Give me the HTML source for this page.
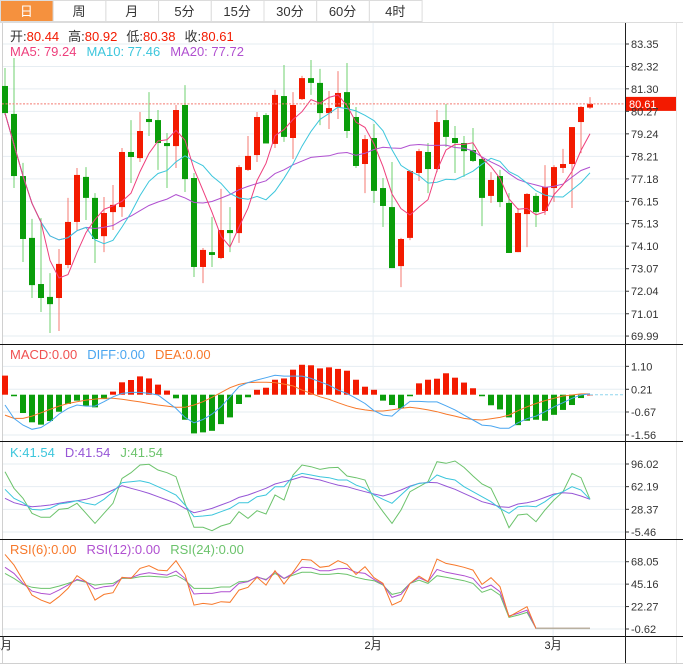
<!DOCTYPE html>
<html><head><meta charset="utf-8">
<style>
html,body{margin:0;padding:0;background:#fff;}
body{width:683px;height:665px;overflow:hidden;font-family:"Liberation Sans","Noto Sans CJK SC",sans-serif;}
svg{display:block;}
text{font-family:"Liberation Sans","Noto Sans CJK SC",sans-serif;}
</style></head>
<body>
<svg id="chart" width="683" height="665" viewBox="0 0 683 665" xmlns="http://www.w3.org/2000/svg">
  <g id="tabs"></g>
  <g id="grid"></g>
  <g id="price"></g>
  <g id="macd"></g>
  <g id="kdj"></g>
  <g id="rsi"></g>
  <g id="axes"></g>
</svg>
<script>
const tabLabels = ['日','周','月','5分','15分','30分','60分','4时'];
const openP  = [81.43,80.15,77.31,74.48,72.37,71.78,71.73,73.24,75.21,77.27,76.31,74.56,75.66,75.89,78.41,78.13,79.92,79.87,78.82,78.68,80.56,77.22,73.15,73.83,73.56,74.84,74.70,77.59,78.27,80.10,78.78,80.97,79.05,80.83,81.79,81.57,80.19,80.47,81.15,80.01,77.86,79.05,76.76,75.89,73.19,74.48,77.45,78.41,77.63,79.87,79.05,78.82,78.50,78.09,76.40,77.31,76.08,73.83,75.57,76.40,75.71,76.76,77.68,77.86,79.78,80.44];
const highP  = [82.25,82.71,77.91,75.35,75.39,72.87,73.97,76.31,77.68,77.72,76.53,76.35,76.90,78.59,79.87,80.24,81.15,80.33,79.28,80.56,81.47,77.45,74.02,75.44,76.72,75.89,77.81,79.14,80.24,80.19,81.25,82.39,81.15,81.89,82.62,82.21,81.20,82.11,82.48,80.47,79.19,79.69,77.22,77.95,74.48,77.59,78.55,78.82,80.33,80.60,79.60,79.14,79.51,78.18,77.49,77.59,76.53,75.85,76.53,76.53,77.81,77.81,78.55,79.55,80.51,80.92];
const lowP   = [80.10,76.76,73.38,71.73,71.09,70.13,70.22,73.10,74.84,75.30,73.33,73.83,74.84,75.44,76.99,77.95,79.14,77.59,76.76,77.68,76.58,72.69,72.41,73.15,73.51,73.83,74.25,77.54,77.95,78.82,78.59,78.87,78.09,80.79,81.02,79.64,79.46,79.92,79.05,77.68,76.53,76.08,74.98,73.10,72.23,74.38,77.08,76.53,77.49,78.64,77.45,77.27,77.95,75.02,76.08,75.89,73.79,73.83,74.06,74.98,75.53,76.12,77.45,75.85,78.36,80.38];
const closeP = [80.19,77.31,74.43,72.32,71.73,71.45,73.29,75.21,77.36,76.31,74.43,75.62,75.99,78.41,78.18,79.37,79.78,78.82,78.68,80.33,77.17,73.15,73.93,73.70,74.84,74.70,77.72,78.23,80.01,78.80,81.02,79.10,80.56,81.79,81.57,80.19,80.42,81.11,79.37,77.77,79.00,76.63,75.94,73.10,74.43,77.54,78.45,77.63,79.78,79.10,78.82,78.45,78.00,76.31,77.13,76.12,73.79,75.62,76.49,75.66,76.81,77.72,77.86,79.55,80.47,80.61];
const priceTicks = [83.35,82.32,81.30,80.27,79.24,78.21,77.18,76.15,75.13,74.10,73.07,72.04,71.01,69.99];
const macdHist = [0.74,-0.06,-0.71,-1.07,-1.16,-1.02,-0.66,-0.36,-0.23,-0.43,-0.49,-0.17,0.12,0.48,0.57,0.71,0.63,0.39,0.16,-0.14,-0.97,-1.50,-1.46,-1.40,-1.14,-0.88,-0.36,-0.10,0.19,0.27,0.58,0.63,0.97,1.16,1.14,1.02,1.06,1.00,0.93,0.58,0.31,0.19,-0.23,-0.40,-0.53,-0.06,0.44,0.58,0.62,0.83,0.66,0.47,0.25,-0.06,-0.41,-0.57,-0.88,-1.18,-1.01,-0.97,-1.01,-0.78,-0.59,-0.40,-0.13,0.0];
const diffV = [-0.40,-0.92,-1.18,-1.34,-1.27,-1.05,-0.75,-0.53,-0.40,-0.44,-0.44,-0.27,-0.08,0.05,0.09,0.09,0.05,-0.01,-0.27,-0.53,-0.88,-1.09,-0.96,-0.75,-0.47,-0.08,0.31,0.47,0.57,0.66,0.75,0.72,0.72,0.72,0.63,0.50,0.37,0.18,0.05,-0.14,-0.34,-0.62,-0.79,-0.83,-0.53,-0.26,-0.26,-0.28,-0.28,-0.43,-0.59,-0.79,-0.98,-1.18,-1.21,-1.30,-1.30,-1.09,-0.93,-0.83,-0.66,-0.47,-0.31,-0.14,-0.01,0.03];
const deaV = [-0.79,-0.92,-0.92,-0.83,-0.70,-0.57,-0.44,-0.34,-0.27,-0.21,-0.17,-0.14,-0.14,-0.18,-0.23,-0.28,-0.34,-0.40,-0.44,-0.49,-0.49,-0.40,-0.27,-0.10,0.08,0.27,0.40,0.47,0.48,0.48,0.47,0.41,0.34,0.18,0.05,-0.08,-0.18,-0.31,-0.43,-0.53,-0.59,-0.63,-0.63,-0.59,-0.53,-0.49,-0.53,-0.59,-0.66,-0.75,-0.83,-0.92,-0.96,-0.98,-0.93,-0.88,-0.79,-0.62,-0.47,-0.34,-0.23,-0.14,-0.05,-0.01,0.03,0.03];
const macdTicks = [1.10,0.21,-0.67,-1.56];
const kV = [58.2,44.8,38.3,28.3,27.3,29.8,36.3,38.3,41.3,37.3,34.8,43.3,54.7,68.1,69.6,71.1,68.1,62.2,56.2,49.7,34.8,17.4,18.4,19.9,24.9,29.8,38.3,38.3,47.2,49.7,62.2,62.2,77.1,82.0,79.6,77.1,75.6,72.1,72.1,64.6,59.7,49.7,43.3,37.3,49.7,62.2,67.1,68.1,79.6,74.6,72.1,62.2,54.7,47.2,39.8,29.8,22.4,32.3,33.3,32.3,39.8,49.7,54.7,62.2,57.2,43.3];
const dV = [44.8,38.3,34.8,32.3,33.3,34.8,37.3,39.8,41.3,43.3,47.2,51.2,57.2,63.6,59.7,56.2,52.2,47.2,42.3,37.3,29.8,23.4,26.3,29.8,34.8,39.8,46.2,49.7,54.7,59.7,66.1,69.6,73.1,77.1,74.6,72.1,68.1,64.6,62.2,58.2,54.7,51.2,48.2,52.2,57.2,63.1,67.1,68.6,68.1,63.1,58.2,52.2,46.2,39.8,36.3,32.3,31.3,36.3,38.3,41.3,46.2,51.2,53.2,52.2,48.2,43.3];
const jV = [84.6,59.7,44.8,22.4,16.4,16.4,28.3,29.8,37.3,22.4,7.4,22.4,37.3,74.6,83.0,94.5,95.5,87.0,83.0,77.1,37.3,1.5,1.5,-3.5,3.5,7.4,24.9,14.9,26.3,21.4,49.7,42.3,79.6,94.5,92.0,88.0,90.5,91.0,78.1,75.6,72.1,43.3,24.9,7.4,27.3,54.7,62.2,69.6,99.5,97.0,100.5,91.0,78.1,66.1,59.7,32.3,1.0,19.9,21.4,9.9,27.3,42.3,54.7,82.0,75.6,43.3];
const kdjTicks = [96.02,62.19,28.37,-5.46];
const rsi6 = [75.5,64.6,49.3,34.0,28.9,25.5,32.3,40.8,53.8,47.6,28.9,34.7,36.4,52.1,51.0,61.2,64.0,59.5,58.9,69.1,55.1,23.8,25.5,24.5,27.2,26.6,39.1,41.9,52.1,44.2,58.9,45.3,57.2,70.4,69.7,62.3,63.6,69.1,65.3,55.1,62.9,51.7,45.9,23.8,27.9,45.9,53.4,47.6,70.8,66.3,64.6,62.3,59.5,44.9,51.7,42.5,11.9,17.0,22.1,0,0,0,0,0,0,0];
const rsi12 = [62.3,56.1,45.9,38.1,35.7,34.7,39.1,44.2,50.0,47.6,40.2,42.5,43.5,51.7,51.7,55.1,56.8,55.5,54.4,58.5,51.0,35.1,35.7,35.7,37.4,37.4,45.9,47.6,52.7,49.3,57.8,51.0,56.1,62.3,61.9,58.9,58.9,60.9,61.2,57.2,56.1,50.0,44.9,31.6,34.7,45.9,51.7,47.6,60.2,57.2,55.5,53.8,51.0,40.8,44.2,37.4,12.6,15.3,18.7,0,0,0,0,0,0,0];
const rsi24 = [56.1,51.0,44.9,41.9,40.8,40.8,43.2,45.9,49.3,47.0,44.2,45.3,45.9,51.0,51.0,52.7,53.4,52.7,52.1,54.4,49.3,40.8,40.8,40.8,42.2,42.2,47.6,48.3,52.1,50.0,56.1,51.0,54.4,57.2,57.2,55.1,55.1,56.1,55.1,52.1,50.0,48.7,44.2,34.7,36.8,45.9,49.3,45.9,53.8,52.1,50.4,48.7,45.9,36.8,40.2,34.0,11.2,13.6,16.3,0,0,0,0,0,0,0];
const rsiTicks = [68.05,45.16,22.27,-0.62];
const dateLabels = ['1月','2月','3月'];
const dateIdx = [-0.2,40.9,60.9];

const NS='http://www.w3.org/2000/svg';
function mk(parent,tag,attrs,txt){const e=document.createElementNS(NS,tag);for(const k in attrs)e.setAttribute(k,attrs[k]);if(txt!==undefined)e.textContent=txt;parent.appendChild(e);return e;}
const AXX=625;
const xOf=i=>5+9*i;
const yPrice=v=>44+(83.35-v)*21.86;
const yMacd=v=>394.7-v*25.8;
const yKdj=v=>464+(96.02-v)*0.670;
const yRsi=v=>561.7+(68.05-v)*0.98;
const G=id=>document.getElementById(id);

// Tabs
const tabs=G('tabs');
mk(tabs,'rect',{x:0,y:0,width:683,height:22,fill:'#fff'});
tabLabels.forEach((t,i)=>{
  const x=i*52.7, w=52.7;
  const r=mk(tabs,'rect',{x:x+0.5,y:0.5,width:w,height:21,fill:i===0?'#f5913e':'#fff',stroke:'#dcdcdc'});
  
  
  const tx=mk(tabs,'text',{x:x+w/2,y:16,'text-anchor':'middle','font-size':13,fill:i===0?'#fff':'#333'},t);
  
  
});
mk(tabs,'line',{x1:0,y1:22.5,x2:683,y2:22.5,stroke:'#dcdcdc'});

// Grid
const grid=G('grid');
function hgrid(y){mk(grid,'line',{x1:2,y1:y,x2:AXX,y2:y,stroke:'#e6edf2','stroke-width':1});}
priceTicks.forEach(v=>hgrid(yPrice(v)));
macdTicks.forEach(v=>hgrid(yMacd(v)));
kdjTicks.forEach(v=>hgrid(yKdj(v)));
rsiTicks.forEach(v=>hgrid(yRsi(v)));
dateIdx.forEach(i=>{if(i>1)mk(grid,'line',{x1:xOf(i),y1:23,x2:xOf(i),y2:636,stroke:'#e6edf2'});});
mk(grid,'line',{x1:2.5,y1:23,x2:2.5,y2:663,stroke:'#d0d0d0'});
mk(grid,'line',{x1:0,y1:663.5,x2:683,y2:663.5,stroke:'#d0d0d0'});
mk(grid,'line',{x1:676.5,y1:23,x2:676.5,y2:663,stroke:'#e6e6e6'});

// Price panel
const price=G('price');
for(let i=0;i<closeP.length;i++){
  const up=closeP[i]>=openP[i];
  const col=up?'#f31a00':'#0a9d0a', wc=up?'#f47a70':'#6fd06f';
  const x=xOf(i);
  const w=mk(price,'line',{x1:x,y1:yPrice(highP[i]),x2:x,y2:yPrice(lowP[i]),stroke:wc,'stroke-width':1});
  
  
  const top=yPrice(Math.max(openP[i],closeP[i])), bot=yPrice(Math.min(openP[i],closeP[i]));
  const b=mk(price,'rect',{x:x-3,y:top,width:6,height:Math.max(1,bot-top),fill:col});
  
  
}
function ma(n){return closeP.map((c,i)=>{const s=Math.max(0,i-n+1);let t=0;for(let k=s;k<=i;k++)t+=closeP[k];return t/(i-s+1);});}
function poly(parent,vals,yf,color,name,extra){
  const pts=vals.map((v,i)=>xOf(i).toFixed(1)+','+yf(v).toFixed(1)).join(' ');
  const p=mk(parent,'polyline',Object.assign({points:pts,fill:'none',stroke:color,'stroke-width':1},extra||{}));
  
  
  return p;
}
poly(price,ma(20),yPrice,'#b050d0','ma20-line');
poly(price,ma(10),yPrice,'#3cc6dc','ma10-line');
poly(price,ma(5),yPrice,'#ee3f7c','ma5-line');
const last=closeP[closeP.length-1];
mk(price,'line',{x1:2,y1:yPrice(last),x2:AXX,y2:yPrice(last),stroke:'#f47a70','stroke-dasharray':'2,1.5','stroke-width':1});
const lbox=mk(price,'rect',{x:626,y:yPrice(last)-7,width:50,height:14,fill:'#f31a00'});


mk(price,'text',{x:629,y:yPrice(last)+4,'font-size':11,fill:'#fff'},last.toFixed(2));
const hdr=mk(price,'text',{x:10,y:41,'font-size':13});


const li=closeP.length-1;
[['开:','#333',0],[openP[li].toFixed(2),'#f31a00',0],['高:','#333',9],[highP[li].toFixed(2),'#f31a00',0],['低:','#333',9],[lowP[li].toFixed(2),'#f31a00',0],['收:','#333',9],[closeP[li].toFixed(2),'#f31a00',0]].forEach(([t,c,d])=>mk(hdr,'tspan',{fill:c,dx:d},t));
const m5=ma(5),m10=ma(10),m20=ma(20);
const mah=mk(price,'text',{x:10,y:56,'font-size':13});


mk(mah,'tspan',{fill:'#ee3f7c'},'MA5: '+m5[li].toFixed(2));
mk(mah,'tspan',{fill:'#3cc6dc',dx:10},'MA10: '+m10[li].toFixed(2));
mk(mah,'tspan',{fill:'#b050d0',dx:10},'MA20: '+m20[li].toFixed(2));

// MACD
const macd=G('macd');
macdHist.forEach((v,i)=>{
  const y0=yMacd(0), y1=yMacd(v);
  const r=mk(macd,'rect',{x:xOf(i)-3,y:Math.min(y0,y1),width:6,height:Math.max(0.8,Math.abs(y1-y0)),fill:v>=0?'#f31a00':'#0a9d0a'});
  
  
});
poly(macd,deaV,yMacd,'#f7782a','dea-line');
poly(macd,diffV,yMacd,'#4aa6f0','diff-line');
mk(macd,'line',{x1:xOf(65),y1:yMacd(0),x2:AXX,y2:yMacd(0),stroke:'#8fd6ee','stroke-dasharray':'3,2'});
const ml=mk(macd,'text',{x:10,y:359,'font-size':13});


mk(ml,'tspan',{fill:'#f05050'},'MACD:0.00');
mk(ml,'tspan',{fill:'#4aa6f0',dx:10},'DIFF:0.00');
mk(ml,'tspan',{fill:'#f7782a',dx:10},'DEA:0.00');

// KDJ
const kdj=G('kdj');
poly(kdj,jV,yKdj,'#6cc36c','j-line');
poly(kdj,dV,yKdj,'#9656d6','d-line');
poly(kdj,kV,yKdj,'#3cc6dc','k-line');
const kl=mk(kdj,'text',{x:10,y:457,'font-size':13});


mk(kl,'tspan',{fill:'#3cc6dc'},'K:41.54');
mk(kl,'tspan',{fill:'#9656d6',dx:10},'D:41.54');
mk(kl,'tspan',{fill:'#6cc36c',dx:10},'J:41.54');

// RSI
const rsi=G('rsi');
poly(rsi,rsi24,yRsi,'#6cc36c','rsi24-line');
poly(rsi,rsi12,yRsi,'#b050d0','rsi12-line');
poly(rsi,rsi6,yRsi,'#f7782a','rsi6-line');
const rflat=mk(rsi,'line',{x1:xOf(59),y1:yRsi(0),x2:xOf(65),y2:yRsi(0),stroke:'#b8b0a0','stroke-width':1.5});


const rl=mk(rsi,'text',{x:10,y:554,'font-size':13});


mk(rl,'tspan',{fill:'#f7782a'},'RSI(6):0.00');
mk(rl,'tspan',{fill:'#b050d0',dx:10},'RSI(12):0.00');
mk(rl,'tspan',{fill:'#6cc36c',dx:10},'RSI(24):0.00');

// Axes
const axes=G('axes');
[344,441,539,636].forEach(y=>mk(axes,'line',{x1:0,y1:y+0.5,x2:683,y2:y+0.5,stroke:'#111','stroke-width':1}));
mk(axes,'line',{x1:AXX+0.5,y1:23,x2:AXX+0.5,y2:663,stroke:'#222','stroke-width':1});
function ticks(vals,yf,name){
  vals.forEach(v=>{
    const y=yf(v);
    mk(axes,'line',{x1:AXX,y1:y,x2:AXX+4,y2:y,stroke:'#333'});
    const t=mk(axes,'text',{x:AXX+6,y:y+4,'font-size':11,fill:'#333'},v.toFixed(2));
    
    
  });
}
ticks(priceTicks,yPrice,'price-tick-label');
ticks(macdTicks,yMacd,'macd-tick-label');
ticks(kdjTicks,yKdj,'kdj-tick-label');
ticks(rsiTicks,yRsi,'rsi-tick-label');
dateLabels.forEach((d,k)=>{
  const x=xOf(dateIdx[k]);
  mk(axes,'line',{x1:x,y1:636,x2:x,y2:640,stroke:'#333'});
  const t=mk(axes,'text',{x:x,y:649,'font-size':11,'text-anchor':'middle',fill:'#222'},d);
  
  
});
</script>
</body></html>
